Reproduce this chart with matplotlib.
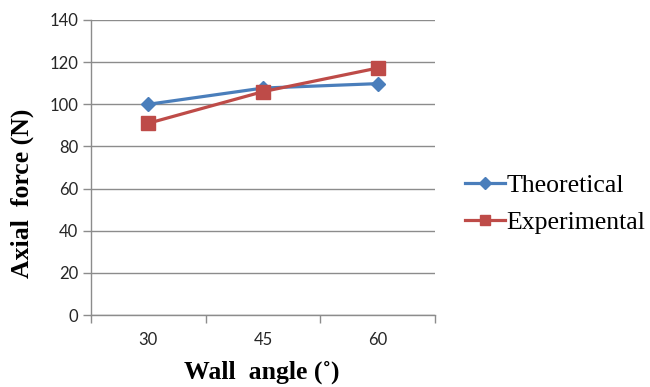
import matplotlib
matplotlib.use("Agg")
import matplotlib.pyplot as plt
from matplotlib.lines import Line2D

categories = ["30", "45", "60"]
theoretical = [100.0, 107.7, 109.8]
experimental = [91.0, 106.0, 117.2]
yticks = [0, 20, 40, 60, 80, 100, 120, 140]

blue = "#4A7EBB"
red = "#BE4B48"
grid_c = "#8C8C8C"

fig = plt.figure(figsize=(6.5, 3.87), dpi=100)
ax = fig.add_axes([91/650, 1-315/387, (435-91)/650, (315-20)/387])

x = list(range(len(categories)))
ax.plot(x, theoretical, color=blue, lw=2.3, marker="D", ms=7.5, zorder=3)
ax.plot(x, experimental, color=red, lw=2.3, marker="s", ms=9.5, zorder=4)

ax.set_xlim(-0.5, len(categories) - 0.5)
ax.set_ylim(0, 140)
ax.set_yticks(yticks)
ax.set_xticks(x)
ax.set_xticklabels(categories)
ax.set_xticks([i - 0.5 for i in range(len(categories) + 1)], minor=True)
ax.tick_params(axis="x", which="major", length=0, pad=12, labelsize=12)
ax.tick_params(axis="x", which="minor", length=6, width=1, color=grid_c)
ax.tick_params(axis="y", length=6, width=1, color=grid_c, pad=3, labelsize=12)
for lab in ax.get_xticklabels() + ax.get_yticklabels():
    lab.set_fontfamily("Lato")
    lab.set_color("#262626")

ax.grid(axis="y", color=grid_c, lw=1)
ax.set_axisbelow(True)
for s in ["top", "right"]:
    ax.spines[s].set_visible(False)
ax.spines["left"].set_color(grid_c)
ax.spines["bottom"].set_color(grid_c)
ax.spines["left"].set_linewidth(1)
ax.spines["bottom"].set_linewidth(1)

fig.text(262/650, 1-372/387, "Wall  angle (\u02da)", ha="center", va="center",
         fontsize=18.5, fontweight="bold", family="Liberation Serif")
fig.text(22/650, 1-193/387, "Axial  force (N)", ha="center", va="center", rotation=90,
         fontsize=18.5, fontweight="bold", family="Liberation Serif")

handles = [Line2D([], [], color=blue, lw=2.3, marker="D", ms=6),
           Line2D([], [], color=red, lw=2.3, marker="s", ms=7.5)]
fig.legend(handles, ["Theoretical", "Experimental"], loc="center left",
           bbox_to_anchor=(465/650, 1-204/387), frameon=False,
           prop={"family": "Liberation Serif", "size": 18.5},
           handlelength=1.55, handletextpad=0.05, labelspacing=0.55,
           borderpad=0, borderaxespad=0)

fig.savefig("out.png", dpi=100)
